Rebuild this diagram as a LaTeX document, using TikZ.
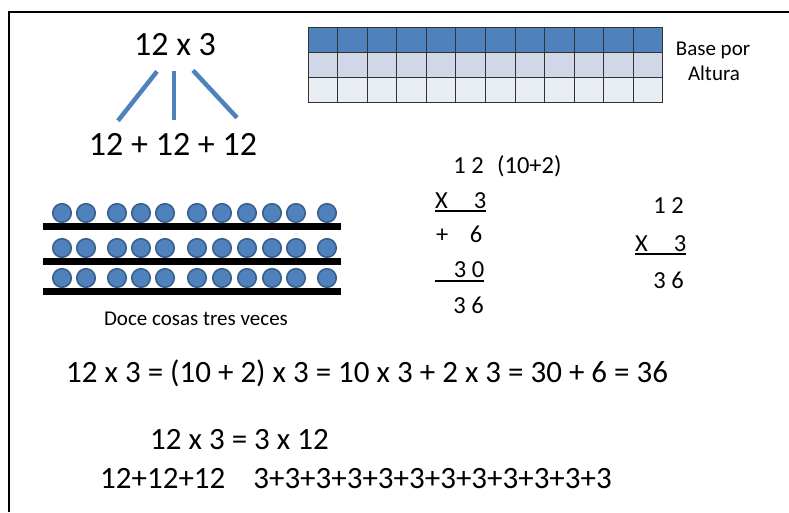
\documentclass[tikz,border=0pt]{standalone}
\usepackage{fontspec}
\setmainfont{Carlito}
\definecolor{bead}{HTML}{4F81BD}
\definecolor{beadline}{HTML}{385D8A}
\definecolor{rowtwo}{HTML}{D0D8E8}
\definecolor{rowthree}{HTML}{E9EDF4}

\begin{document}
\begin{tikzpicture}[x=1pt, y=-1pt,
  every node/.style={inner sep=0pt, anchor=base},
  big/.style={font=\fontsize{34}{40}\selectfont},
  eq/.style={anchor=base west, font=\fontsize{31}{36}\selectfont},
  digit/.style={font=\fontsize{24.5}{28}\selectfont},
  label/.style={font=\fontsize{21}{25}\selectfont},
  fan/.style={draw=bead, line width=4.5pt},
  rule/.style={line width=1.3pt}]

\useasboundingbox (0,0) rectangle (789,512);
\draw[line width=2.5pt] (9,512) -- (9,12) -- (789,12);

% twelve times three, split into a sum
\node[big] (prod) at (175,55) {12 x 3};
\node[big] (sum) at (173,155) {12 + 12 + 12};
\draw[fan] ([shift={(-18pt,-16pt)}]prod.south) -- ([shift={(-55pt,12pt)}]sum.north);
\draw[fan] ([shift={(-1pt,-16pt)}]prod.south) -- ([shift={(1pt,13pt)}]sum.north);
\draw[fan] ([shift={(18pt,-15pt)}]prod.south) -- ([shift={(64pt,15pt)}]sum.north);

% base by height
\foreach \r/\c in {0/bead,1/rowtwo,2/rowthree} {
  \foreach \k in {0,...,11} {
    \draw[fill=\c, draw=black!80, line width=1pt] (308+\k*29.58,27+\r*25) rectangle ++(29.58,25);
  }
}
\node[label] (base) at (713,55) {Base por};
\node[label] (height) at (714,80) {Altura};

% three rows of beads
\foreach \y in {213,248,278} {
  \draw[line width=6.5pt] (43,\y+13.5) -- (341,\y+13.5);
  \foreach \x in {62,86,117,141,165,197,222,247,272,296,327} {
    \draw[fill=bead, draw=beadline, line width=1.5pt] (\x,\y) circle (9.3pt);
  }
}
\node[label] (things) at (196,325) {Doce cosas tres veces};

% column with partial products
\node[digit, anchor=base east] (topA) at (484,173) {1 2};
\node[digit, anchor=base west] (split) at (497,173) {(10+2)};
\node[digit, anchor=base west] (mulA) at (435,208) {\makebox[51pt]{X\hfill3}};
\node[digit, anchor=base west] (plus) at (436,242) {\makebox[46pt]{+\hfill6}};
\node[digit, anchor=base west] (partB) at (435,277) {\makebox[49pt][r]{3 0}};
\node[digit, anchor=base east] (resA) at (484,313) {3 6};
\draw[rule] ([yshift=-3pt]mulA.base west) -- ([yshift=-3pt]mulA.base east);
\draw[rule] ([yshift=-4pt]partB.base west) -- ([yshift=-4pt]partB.base east);

% plain column
\node[digit, anchor=base east] (topB) at (684,213) {1 2};
\node[digit, anchor=base west] (mulB) at (635,251) {\makebox[51pt]{X\hfill3}};
\node[digit, anchor=base east] (resB) at (684,288) {3 6};
\draw[rule] ([yshift=-3pt]mulB.base west) -- ([yshift=-3pt]mulB.base east);

% equalities
\node[eq] (dist) at (66,382) {12 x 3 = (10 + 2) x 3 = 10 x 3 + 2 x 3 = 30 + 6 = 36};
\node[eq] (comm) at (150,449) {12 x 3 = 3 x 12};
\node[eq] (sums) at (100,488) {12+12+12\hspace{28pt}3+3+3+3+3+3+3+3+3+3+3+3};

\end{tikzpicture}
\end{document}
